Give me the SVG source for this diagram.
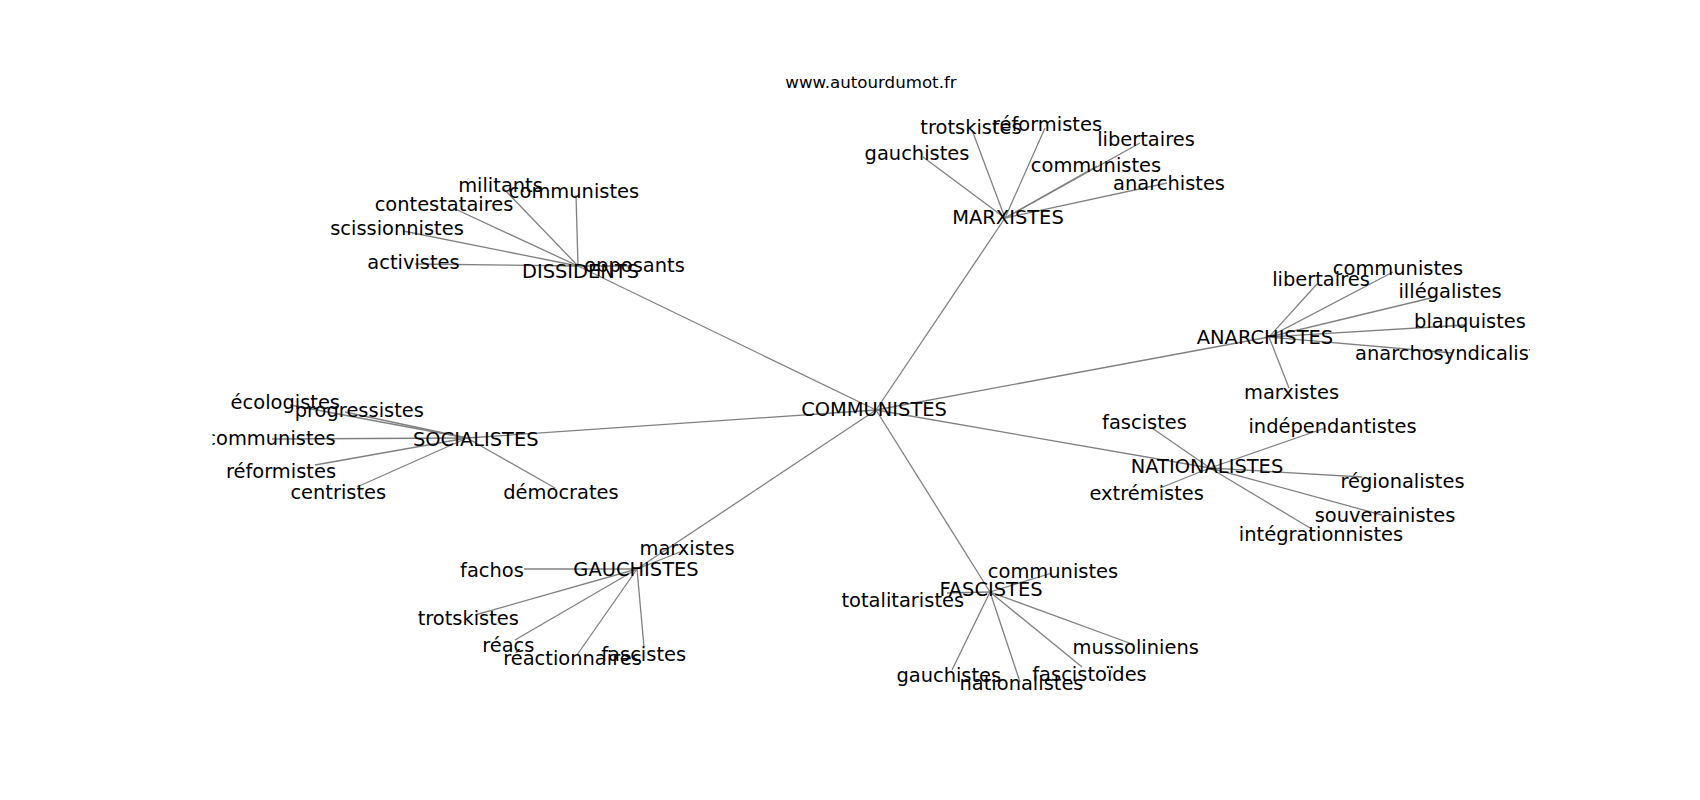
<svg xmlns="http://www.w3.org/2000/svg" width="1700" height="800" viewBox="0 0 1700 800">
<style>
.e{stroke:#808080;stroke-width:1.3;fill:none}
.l{font-family:"DejaVu Sans",sans-serif;font-size:19.44px;fill:#000;text-anchor:middle}
.t{font-family:"DejaVu Sans",sans-serif;font-size:16.67px;fill:#000;text-anchor:middle}
</style>
<defs><clipPath id="ax"><rect x="212.5" y="96" width="1317.5" height="616"/></clipPath></defs>
<rect width="1700" height="800" fill="#fff"/>
<text class="t" x="871" y="87.7">www.autourdumot.fr</text>
<g clip-path="url(#ax)">
<g id="connectors" class="e">
<line x1="876" y1="410" x2="578" y2="266"/>
<line x1="876" y1="410" x2="1005" y2="218"/>
<line x1="876" y1="410" x2="1269" y2="337"/>
<line x1="876" y1="410" x2="1210" y2="468"/>
<line x1="876" y1="410" x2="990" y2="592"/>
<line x1="876" y1="410" x2="637" y2="569"/>
<line x1="876" y1="410" x2="467" y2="438"/>
<line x1="578" y1="266" x2="503" y2="188"/>
<line x1="578" y1="266" x2="576" y2="195"/>
<line x1="578" y1="266" x2="453" y2="208"/>
<line x1="578" y1="266" x2="403" y2="231"/>
<line x1="578" y1="266" x2="415" y2="264"/>
<line x1="578" y1="266" x2="632" y2="266"/>
<line x1="1005" y1="218" x2="923" y2="157"/>
<line x1="1005" y1="218" x2="972" y2="130"/>
<line x1="1005" y1="218" x2="1045" y2="128"/>
<line x1="1005" y1="218" x2="1140" y2="143"/>
<line x1="1005" y1="218" x2="1097" y2="166"/>
<line x1="1005" y1="218" x2="1167" y2="183"/>
<line x1="1269" y1="337" x2="1317" y2="284"/>
<line x1="1269" y1="337" x2="1393" y2="272"/>
<line x1="1269" y1="337" x2="1435" y2="297"/>
<line x1="1269" y1="337" x2="1466" y2="325"/>
<line x1="1269" y1="337" x2="1452" y2="353"/>
<line x1="1269" y1="337" x2="1289" y2="388"/>
<line x1="467" y1="438" x2="290" y2="405"/>
<line x1="467" y1="438" x2="345" y2="412"/>
<line x1="467" y1="438" x2="272" y2="439"/>
<line x1="467" y1="438" x2="315" y2="465"/>
<line x1="467" y1="438" x2="357" y2="487"/>
<line x1="467" y1="438" x2="555" y2="488"/>
<line x1="637" y1="569" x2="680" y2="552"/>
<line x1="637" y1="569" x2="524" y2="569"/>
<line x1="637" y1="569" x2="475" y2="615"/>
<line x1="637" y1="569" x2="515" y2="640"/>
<line x1="637" y1="569" x2="577" y2="655"/>
<line x1="637" y1="569" x2="644" y2="647"/>
<line x1="990" y1="592" x2="1052" y2="573"/>
<line x1="990" y1="592" x2="947" y2="593"/>
<line x1="990" y1="592" x2="1132" y2="644"/>
<line x1="990" y1="592" x2="952" y2="670"/>
<line x1="990" y1="592" x2="1020" y2="682"/>
<line x1="990" y1="592" x2="1082" y2="667"/>
<line x1="1210" y1="468" x2="1152" y2="428"/>
<line x1="1210" y1="468" x2="1325" y2="428"/>
<line x1="1210" y1="468" x2="1160" y2="488"/>
<line x1="1210" y1="468" x2="1362" y2="477"/>
<line x1="1210" y1="468" x2="1382" y2="515"/>
<line x1="1210" y1="468" x2="1310" y2="528"/>
</g>
<g id="labels" transform="translate(0,1.2)">
<g id="n-communistes"><text class="l" x="874" y="415">COMMUNISTES</text></g>
<g id="n-dissidents"><text class="l" x="580.5" y="277">DISSIDENTS</text></g>
<g id="n-dis-militants"><text class="l" x="500.5" y="190.7">militants</text></g>
<g id="n-dis-communistes"><text class="l" x="574" y="197">communistes</text></g>
<g id="n-dis-contestataires"><text class="l" x="444" y="210">contestataires</text></g>
<g id="n-dis-scissionnistes"><text class="l" x="397" y="234">scissionnistes</text></g>
<g id="n-dis-activistes"><text class="l" x="413.5" y="268">activistes</text></g>
<g id="n-dis-opposants"><text class="l" x="634.5" y="271">opposants</text></g>
<g id="n-marxistes"><text class="l" x="1008" y="223.3">MARXISTES</text></g>
<g id="n-mar-trotskistes"><text class="l" x="971" y="133.3">trotskistes</text></g>
<g id="n-mar-reformistes"><text class="l" x="1047" y="130">réformistes</text></g>
<g id="n-mar-libertaires"><text class="l" x="1146" y="145">libertaires</text></g>
<g id="n-mar-gauchistes"><text class="l" x="917" y="159.3">gauchistes</text></g>
<g id="n-mar-communistes"><text class="l" x="1096" y="171">communistes</text></g>
<g id="n-mar-anarchistes"><text class="l" x="1169" y="189">anarchistes</text></g>
<g id="n-anarchistes"><text class="l" x="1265" y="342.5">ANARCHISTES</text></g>
<g id="n-ana-libertaires"><text class="l" x="1321" y="285">libertaires</text></g>
<g id="n-ana-communistes"><text class="l" x="1398" y="273.5">communistes</text></g>
<g id="n-ana-illegalistes"><text class="l" x="1450" y="297.3">illégalistes</text></g>
<g id="n-ana-blanquistes"><text class="l" x="1470" y="326.7">blanquistes</text></g>
<g id="n-ana-anarchosyndicalistes"><text class="l" x="1355" y="359" style="text-anchor:start">anarchosyndicalistes</text></g>
<g id="n-ana-marxistes"><text class="l" x="1291.5" y="397.5">marxistes</text></g>
<g id="n-socialistes"><text class="l" x="475.8" y="445">SOCIALISTES</text></g>
<g id="n-soc-ecologistes"><text class="l" x="285.3" y="408.3">écologistes</text></g>
<g id="n-soc-progressistes"><text class="l" x="359.3" y="415.5">progressistes</text></g>
<g id="n-soc-communistes"><text class="l" x="270.5" y="444.3">communistes</text></g>
<g id="n-soc-reformistes"><text class="l" x="281" y="476.7">réformistes</text></g>
<g id="n-soc-centristes"><text class="l" x="338.3" y="498.3">centristes</text></g>
<g id="n-soc-democrates"><text class="l" x="561" y="498.3">démocrates</text></g>
<g id="n-gauchistes"><text class="l" x="636" y="575">GAUCHISTES</text></g>
<g id="n-gau-marxistes"><text class="l" x="687" y="554.3">marxistes</text></g>
<g id="n-gau-fachos"><text class="l" x="492" y="575.5">fachos</text></g>
<g id="n-gau-trotskistes"><text class="l" x="468.3" y="624">trotskistes</text></g>
<g id="n-gau-reacs"><text class="l" x="508.3" y="651">réacs</text></g>
<g id="n-gau-reactionnaires"><text class="l" x="572.5" y="664.3">réactionnaires</text></g>
<g id="n-gau-fascistes"><text class="l" x="643.7" y="659.5">fascistes</text></g>
<g id="n-fascistes"><text class="l" x="991" y="595">FASCISTES</text></g>
<g id="n-fas-communistes"><text class="l" x="1053" y="576.7">communistes</text></g>
<g id="n-fas-totalitaristes"><text class="l" x="902.8" y="605.7">totalitaristes</text></g>
<g id="n-fas-mussoliniens"><text class="l" x="1135.7" y="652.7">mussoliniens</text></g>
<g id="n-fas-gauchistes"><text class="l" x="948.8" y="681">gauchistes</text></g>
<g id="n-fas-nationalistes"><text class="l" x="1021.5" y="688.7">nationalistes</text></g>
<g id="n-fas-fascistoides"><text class="l" x="1089.5" y="679.5">fascistoïdes</text></g>
<g id="n-nationalistes"><text class="l" x="1207" y="472">NATIONALISTES</text></g>
<g id="n-nat-fascistes"><text class="l" x="1144.5" y="428.3">fascistes</text></g>
<g id="n-nat-independantistes"><text class="l" x="1332.5" y="432.3">indépendantistes</text></g>
<g id="n-nat-extremistes"><text class="l" x="1146.7" y="499.3">extrémistes</text></g>
<g id="n-nat-regionalistes"><text class="l" x="1402.5" y="487.3">régionalistes</text></g>
<g id="n-nat-souverainistes"><text class="l" x="1385" y="520.7">souverainistes</text></g>
<g id="n-nat-integrationnistes"><text class="l" x="1321" y="540">intégrationnistes</text></g>
</g>
</g>
</svg>
